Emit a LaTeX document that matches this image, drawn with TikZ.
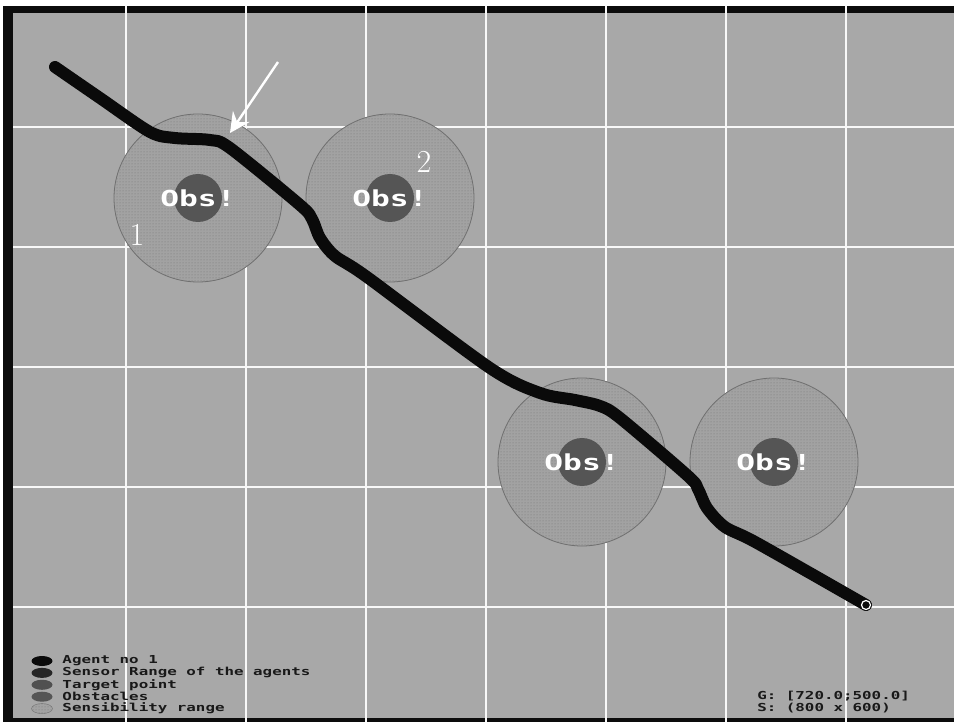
\documentclass[tikz,border=0pt]{standalone}
\usepackage{fontspec}
\newfontfamily\pixfont{DejaVu Sans Mono}
\usetikzlibrary{arrows.meta,positioning,shapes.geometric,patterns}
\definecolor{fieldbg}{RGB}{168,168,168}
\definecolor{framecol}{RGB}{12,12,12}
\definecolor{gridcol}{RGB}{248,248,248}
\definecolor{sensfill}{RGB}{162,162,162}
\definecolor{sensdot}{RGB}{118,118,118}
\definecolor{sensedge}{RGB}{112,112,112}
\definecolor{obscol}{RGB}{85,85,85}
\definecolor{agentcol}{RGB}{10,10,10}
\definecolor{sensorcol}{RGB}{38,38,38}
\definecolor{targetcol}{RGB}{80,80,80}
\definecolor{legendtxt}{RGB}{25,25,25}
\tikzset{
    gridline/.style={draw=gridcol, line width=1.6pt},
    sensrange/.style={circle, draw=sensedge, line width=0.8pt, fill=sensfill, postaction={pattern=dots, pattern color=sensdot}, minimum size=168pt, inner sep=0pt},
    obstacle/.style={circle, fill=obscol, minimum size=48pt, inner sep=0pt},
    obslabel/.style={text=white, font=\pixfont\bfseries\fontsize{22}{22}\selectfont, xscale=1.42, inner sep=0pt},
    numlabel/.style={text=white, font=\fontsize{32}{32}\selectfont, inner sep=0pt},
    trajectory/.style={draw=agentcol, line width=12pt, line cap=round, line join=round},
    targetmark/.style={circle, fill=agentcol, draw=white, line width=1.2pt, minimum size=9pt, inner sep=0pt},
    pointerarrow/.style={draw=white, line width=2.4pt, -{Stealth[length=20pt, width=20pt, inset=7pt]}},
    legendmark/.style={ellipse, minimum width=21pt, minimum height=10pt, inner sep=0pt},
    legendtext/.style={text=legendtxt, font=\pixfont\bfseries\fontsize{11}{11}\selectfont, xscale=1.44, inner sep=0pt, anchor=west}
}

\begin{document}
\begin{tikzpicture}[x=1pt, y=-1pt]
    \useasboundingbox (0,0) rectangle (954,722);
    % field and frame
    \fill[fieldbg] (6,6) rectangle (954,722);
    \fill[framecol] (6,6) rectangle (954,13);
    \fill[framecol] (3,6) rectangle (13,722);
    \fill[framecol] (13,718) rectangle (954,722);
    \foreach \gx in {126,246,...,846}
        \draw[gridline] (\gx,6) -- (\gx,722);
    \foreach \gy in {127,247,...,607}
        \draw[gridline] (13,\gy) -- (954,\gy);

    % obstacles with their sensibility range
    \node[sensrange] (sens1) at (198,198) {};
    \node[sensrange] (sens2) at (390,198) {};
    \node[sensrange] (sens3) at (582,462) {};
    \node[sensrange] (sens4) at (774,462) {};
    \node[obstacle] (obs1) at (sens1.center) {};
    \node[obstacle] (obs2) at (sens2.center) {};
    \node[obstacle] (obs3) at (sens3.center) {};
    \node[obstacle] (obs4) at (sens4.center) {};

    % path of the agent
    \coordinate (start) at (55,67);
    \coordinate (goal) at (866,605);
    \draw[trajectory] plot[smooth, tension=0.5] coordinates {(start) (100,98) (150,132) (175,138) (210,140) (230,148) (300,205) (312,219) (320,238) (335,256) (367,277) (490,368) (540,393) (575,400) (600,406) (620,418) (688,476) (698,489) (707,508) (725,527) (757,543) (goal)};
    \node[targetmark] (target) at (goal) {};

    \node[obslabel] (obstext1) at (obs1) {Obs!};
    \node[obslabel] (obstext2) at (obs2) {Obs!};
    \node[obslabel] (obstext3) at (obs3) {Obs!};
    \node[obslabel] (obstext4) at (obs4) {Obs!};
    \node[numlabel] (num1) at (137,235) {1};
    \node[numlabel] (num2) at (424,162) {2};

    % pointer to the first avoidance
    \coordinate (pointertail) at (278,62);
    \coordinate (pointertip) at (230,133);
    \draw[pointerarrow] (pointertail) -- (pointertip);

    % legend
    \node[legendmark, fill=agentcol] (markagent) at (42,661) {};
    \node[legendmark, fill=sensorcol, below=1.5pt of markagent] (marksensor) {};
    \node[legendmark, fill=targetcol, below=1.5pt of marksensor] (marktarget) {};
    \node[legendmark, fill=obscol, below=1.5pt of marktarget] (markobs) {};
    \node[legendmark, draw=sensedge, fill=sensfill, postaction={pattern=dots, pattern color=sensdot}, below=1.5pt of markobs] (marksens) {};
    \node[legendtext, right=9.5pt of markagent] (txtagent) {Agent no 1};
    \node[legendtext, right=9.5pt of marksensor] (txtsensor) {Sensor Range of the agents};
    \node[legendtext, right=9.5pt of marktarget] (txttarget) {Target point};
    \node[legendtext, right=9.5pt of markobs] (txtobs) {Obstacles};
    \node[legendtext, right=9.5pt of marksens] (txtsens) {Sensibility range};
    \node[legendtext] (goalinfo) at (757,696) {G: [720.0;500.0]};
    \node[legendtext] (sizeinfo) at (757,708) {S: (800 x 600)};
\end{tikzpicture}
\end{document}
